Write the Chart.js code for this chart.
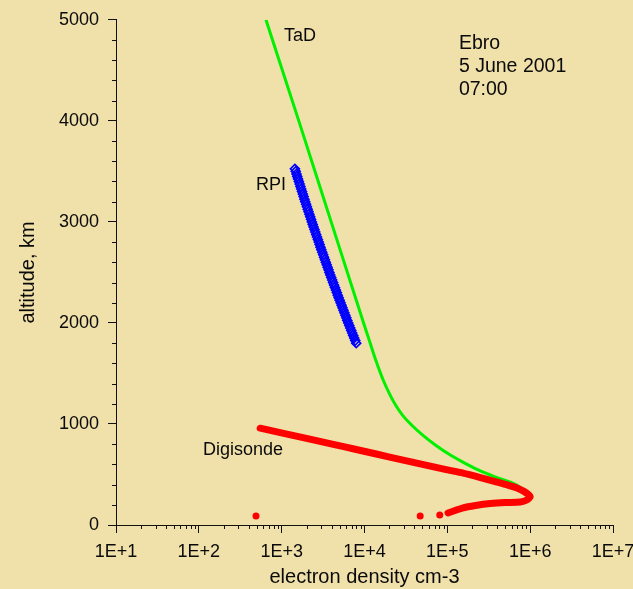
<!DOCTYPE html>
<html>
<head>
<meta charset="utf-8">
<script src="https://cdn.jsdelivr.net/npm/chart.js@4.4.1/dist/chart.umd.min.js"></script>
<style>
  html, body { margin: 0; padding: 0; background: #f0e0aa; }
  canvas { display: block; }
</style>
</head>
<body>
<canvas id="profile" width="633" height="589"></canvas>
<script>
// TaD model profile (altitude km, electron density cm-3)
const tadAlt = [5000, 4000, 3000, 2000, 1830, 1630, 1430, 1285, 1185, 1085, 990, 890, 790, 690, 615, 545, 475, 395, 330];
const tadDens = [646, 1610, 3960, 9750, 11400, 13700, 16900, 20400, 23800, 28900, 37000, 50400, 72300, 110000, 160000, 236000, 378000, 689000, 891000];

// RPI plasmasphere profile
const rpiAlt = [3525, 3500, 3475, 3450, 3425, 3400, 3375, 3350, 3325, 3300,
                3275, 3250, 3225, 3200, 3175, 3150, 3125, 3100, 3075, 3050,
                3025, 3000, 2975, 2950, 2925, 2900, 2875, 2850, 2825, 2800,
                2775, 2750, 2725, 2700, 2675, 2650, 2625, 2600, 2575, 2550,
                2525, 2500, 2475, 2450, 2425, 2400, 2375, 2350, 2325, 2300,
                2275, 2250, 2225, 2200, 2175, 2150, 2125, 2100, 2075, 2050,
                2025, 2000, 1975, 1950, 1925, 1900, 1875, 1850, 1825, 1800];
const rpiDens = [1445, 1477, 1510, 1543, 1577, 1612, 1648, 1684, 1722, 1760,
                 1800, 1841, 1883, 1926, 1970, 2016, 2062, 2111, 2160, 2211,
                 2263, 2317, 2372, 2428, 2487, 2546, 2608, 2671, 2736, 2803,
                 2872, 2943, 3015, 3090, 3168, 3246, 3327, 3411, 3497, 3586,
                 3677, 3771, 3867, 3968, 4071, 4176, 4286, 4398, 4513, 4632,
                 4753, 4879, 5010, 5143, 5282, 5425, 5570, 5721, 5876, 6037,
                 6202, 6372, 6549, 6730, 6918, 7112, 7307, 7513, 7725, 7943];

// Digisonde profile: topside, peak, bottomside
const digiAlt = [958, 900, 850, 800, 750, 700, 650, 600, 550, 514, 470, 425, 395, 366, 330, 300, 280, 247, 227, 222, 212, 193, 168, 143, 119];
const digiDens = [550, 1160, 2190, 4070, 7710, 14300, 26700, 50000, 93800, 155000, 251000, 398000, 537000, 692000, 851000, 955000, 1000000, 912000, 759000, 501000, 331000, 219000, 151000, 124000, 102000];
// stray low-altitude digisonde points
const digiLowAlt = [99, 89, 89];
const digiLowDens = [81000, 47000, 490];

const altTicks = [0, 1000, 2000, 3000, 4000, 5000];

const seriesLabels = [
  { text: 'TaD', x: 1070, y: 4842 },
  { text: 'RPI', x: 490, y: 3360 },
  { text: 'Digisonde', x: 112, y: 741 }
];
const stationLines = ['Ebro', '5 June 2001', '07:00'];
const stationAt = { x: 138000, y: 4763 };

const RED = '#ff0000';
const GREEN = '#00f000';
const BLUE = '#0000ff';
const AXIS_COLOR = '#111111';
const TEXT = '#0a0a0a';
const FAMILY = 'Arial, "Liberation Sans", sans-serif';
const TICK_FONT = { family: FAMILY, size: 18 };
const TITLE_FONT = { family: FAMILY, size: 20 };

const toPoints = (xs, ys) => xs.map((v, i) => ({ x: v, y: ys[i] }));
const isDecade = v => {
  const e = Math.round(Math.log10(v));
  return Math.abs(v / Math.pow(10, e) - 1) < 1e-9;
};

// short minor ticks on both axes
const minorTicks = {
  id: 'minorTicks',
  afterDraw(chart) {
    const { ctx, chartArea: { left, bottom }, scales: { x, y } } = chart;
    ctx.save();
    ctx.strokeStyle = AXIS_COLOR;
    ctx.lineWidth = 1;
    ctx.beginPath();
    for (let v = 200; v < 5000; v += 200) {
      if (v % 1000 === 0) continue;
      const py = Math.round(y.getPixelForValue(v)) + 0.5;
      ctx.moveTo(left - 4, py);
      ctx.lineTo(left, py);
    }
    for (let e = 1; e < 7; e++) {
      for (let m = 2; m <= 9; m++) {
        const px = Math.round(x.getPixelForValue(m * Math.pow(10, e))) + 0.5;
        ctx.moveTo(px, bottom);
        ctx.lineTo(px, bottom + 4);
      }
    }
    ctx.stroke();
    ctx.restore();
  }
};

// curve names and station/date block
const annotations = {
  id: 'annotations',
  afterDatasetsDraw(chart) {
    const { ctx, scales: { x, y } } = chart;
    ctx.save();
    ctx.fillStyle = TEXT;
    ctx.textAlign = 'left';
    ctx.textBaseline = 'middle';
    ctx.font = '18px ' + FAMILY;
    seriesLabels.forEach(l => {
      ctx.fillText(l.text, x.getPixelForValue(l.x), y.getPixelForValue(l.y));
    });
    ctx.font = '19.5px ' + FAMILY;
    const sx = x.getPixelForValue(stationAt.x);
    const sy = y.getPixelForValue(stationAt.y);
    stationLines.forEach((t, i) => ctx.fillText(t, sx, sy + i * 23));
    ctx.restore();
  }
};

new Chart(document.getElementById('profile'), {
  type: 'scatter',
  data: {
    datasets: [
      {
        label: 'Digisonde',
        data: toPoints(digiDens, digiAlt),
        showLine: true,
        borderColor: RED,
        borderWidth: 7,
        borderCapStyle: 'round',
        borderJoinStyle: 'round',
        tension: 0.2,
        pointRadius: 0
      },
      {
        label: 'Digisonde low',
        data: toPoints(digiLowDens, digiLowAlt),
        pointRadius: 3.5,
        backgroundColor: RED,
        borderWidth: 0
      },
      {
        label: 'RPI',
        data: toPoints(rpiDens, rpiAlt),
        pointStyle: 'rectRot',
        pointRadius: 4.5,
        borderColor: BLUE,
        borderWidth: 1.6,
        backgroundColor: 'rgba(0,0,0,0)'
      },
      {
        label: 'TaD',
        data: toPoints(tadDens, tadAlt),
        showLine: true,
        borderColor: GREEN,
        borderWidth: 3,
        cubicInterpolationMode: 'monotone',
        pointRadius: 0
      }
    ]
  },
  options: {
    responsive: false,
    animation: false,
    devicePixelRatio: 1,
    events: [],
    layout: { padding: { top: 19, right: 0, bottom: 0, left: 0 } },
    plugins: {
      legend: { display: false },
      tooltip: { enabled: false }
    },
    scales: {
      x: {
        type: 'logarithmic',
        position: 'bottom',
        min: 10,
        max: 1e7,
        grid: {
          drawOnChartArea: false,
          tickLength: 8,
          tickColor: ctx => (ctx.tick && isDecade(ctx.tick.value)) ? AXIS_COLOR : 'rgba(0,0,0,0)'
        },
        border: { color: AXIS_COLOR, width: 1 },
        ticks: {
          autoSkip: false,
          maxRotation: 0,
          padding: 8,
          color: TEXT,
          font: TICK_FONT,
          callback: v => isDecade(v) ? '1E+' + Math.round(Math.log10(v)) : ''
        },
        title: {
          display: true,
          text: 'electron density cm-3',
          color: TEXT,
          font: TITLE_FONT,
          padding: { top: 4, bottom: 0 }
        },
        afterFit: scale => {
          scale.height = 64;
          scale.paddingRight = 20;
        }
      },
      y: {
        min: 0,
        max: 5000,
        afterBuildTicks: scale => { scale.ticks = altTicks.map(v => ({ value: v })); },
        grid: {
          drawOnChartArea: false,
          tickLength: 8,
          tickColor: AXIS_COLOR
        },
        border: { color: AXIS_COLOR, width: 1 },
        ticks: {
          padding: 9,
          color: TEXT,
          font: TICK_FONT,
          callback: v => String(v)
        },
        title: {
          display: true,
          text: 'altitude, km',
          color: TEXT,
          font: TITLE_FONT,
          padding: { top: 16, bottom: 4 }
        },
        afterFit: scale => { scale.width = 116; }
      }
    }
  },
  plugins: [minorTicks, annotations]
});
</script>
</body>
</html>
